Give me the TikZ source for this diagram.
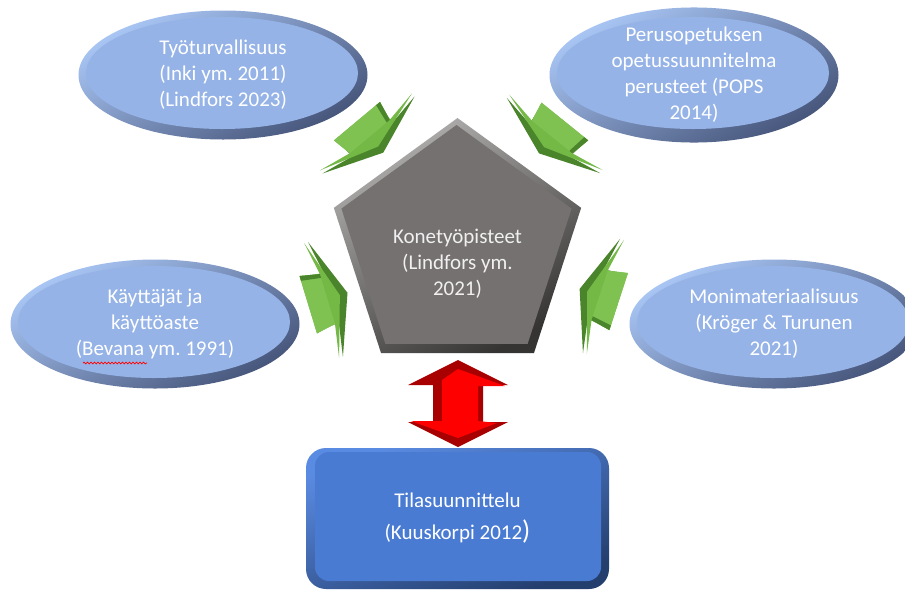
\documentclass[tikz,border=0pt]{standalone}
\usepackage{fontspec}
\setmainfont{Carlito}
\usepackage{tikz}
\usetikzlibrary{shapes.geometric,calc,decorations.pathmorphing}
\frenchspacing

\definecolor{bubblefill}{HTML}{95B3E7}
\definecolor{bubblelight}{HTML}{A9C6F5}
\definecolor{bubbledark}{HTML}{46557A}
\definecolor{hubfill}{HTML}{767171}
\definecolor{hublight}{HTML}{B3B0B0}
\definecolor{hubdark}{HTML}{363333}
\definecolor{planfill}{HTML}{4A7BD2}
\definecolor{planlight}{HTML}{5A8BE2}
\definecolor{plandark}{HTML}{243E6E}
\definecolor{leafface}{HTML}{74B846}
\definecolor{leafside}{HTML}{4A842B}
\definecolor{leafshaft}{HTML}{7FC252}
\definecolor{bolddark}{HTML}{A80000}
\definecolor{boldface}{HTML}{FF0000}

\newcommand{\labelfont}{\fontsize{21pt}{26pt}\selectfont}

\tikzstyle{bubble} = [ellipse, minimum width=289pt, minimum height=129pt, inner sep=0pt,
    top color=bubblelight, bottom color=bubbledark, shading angle=30,
    path picture={\fill[bubblefill] ([xshift=-1pt,yshift=2pt]path picture bounding box.center) ellipse (136pt and 56pt);},
    text=white, align=center, font=\labelfont]
\tikzstyle{hubshape} = [regular polygon, regular polygon sides=5, minimum size=260pt,
    inner sep=0pt, outer sep=0pt, top color=hublight, bottom color=hubdark, shading angle=30]
\tikzstyle{hubtext} = [text=white!94!black, align=center, font=\labelfont]
\tikzstyle{planbox} = [rectangle, rounded corners=20pt, minimum width=303pt, minimum height=141pt,
    top color=planlight, bottom color=plandark, shading angle=20,
    path picture={\fill[planfill, rounded corners=14pt] ([shift={(9pt,8pt)}]path picture bounding box.south west) rectangle ([shift={(-8pt,-4pt)}]path picture bounding box.north east);},
    text=white, align=center, font=\labelfont]
\tikzstyle{squiggle} = [draw=red, line width=0.7pt, decorate, decoration={snake, amplitude=0.9pt, segment length=3.5pt}]

% green block arrow: #1 = base point, #2 = angle
\newcommand{\greenarrow}[2]{%
  \begin{scope}[shift={#1}, rotate=#2]
    \fill[leafside] (0,-60) -- (23,0) -- (0,60) -- (6,26) -- (-12,28) -- (-12,-28) -- (6,-26) -- cycle;
    \fill[leafface] (-4,-60) -- (15,0) -- (-4,60) -- (2,26) -- (-18,30) -- (-18,-30) -- (2,-26) -- cycle;
    \fill[leafshaft] (2,-26) -- (-18,-30) -- (-18,30) -- (2,26) -- cycle;
    \fill[leafside] (2,-26) -- (-18,-30) -- (-18,-25) -- (2,-22) -- cycle;
  \end{scope}}

\begin{document}
\begin{tikzpicture}[x=1pt, y=-1pt]
    \useasboundingbox[fill=white] (0,0) rectangle (905,590);
    % Place nodes
    \node [hubshape] (hub) at (457.5,248) {};
    \fill [hubfill] ($(hub.corner 1)!9pt!(hub.center) + (-1,-2)$) -- ($(hub.corner 2)!9pt!(hub.center) + (-1,-2)$)
        -- ($(hub.corner 3)!9pt!(hub.center) + (-1,-2)$) -- ($(hub.corner 4)!9pt!(hub.center) + (-1,-2)$)
        -- ($(hub.corner 5)!9pt!(hub.center) + (-1,-2)$) -- cycle;
    \node [hubtext] (hublabel) at ($(hub.center) + (0,16)$) {Konetyöpisteet\\(Lindfors ym.\\2021)};
    \node [bubble] (safety) at (223,75) {Työturvallisuus\\(Inki ym. 2011)\\(Lindfors 2023)};
    \node [bubble] (curriculum) at (694,75) {Perusopetuksen\\opetussuunnitelma\\perusteet (POPS\\2014)};
    \node [bubble] (users) at (155,324) {Käyttäjät ja\\käyttöaste\\(Bevana ym. 1991)};
    \node [bubble] (materials) at (774,324) {Monimateriaalisuus\\(Kröger \& Turunen\\2021)};
    \node [planbox] (plan) at (457.5,518.5) {Tilasuunnittelu\\[6pt](Kuuskorpi 2012{\fontsize{27pt}{27pt}\selectfont)}};
    % Draw arrows
    \greenarrow{(368.5,135)}{-50.1}
    \greenarrow{(553.5,135.5)}{-128.9}
    \greenarrow{(325.5,299.5)}{16.9}
    \greenarrow{(601.5,296)}{162}
    \fill [bolddark] (458,360) -- (508,385) -- (483,385) -- (483,422) -- (508,422) -- (458,447)
        -- (408,422) -- (433,422) -- (433,385) -- (408,385) -- cycle;
    \fill [boldface] (458,369) -- (505,386) -- (478,386) -- (478,421) -- (497,423) -- (458,438)
        -- (411,421) -- (442,421) -- (442,380) -- cycle;
    \draw [squiggle] (83,363) -- (147,363);
\end{tikzpicture}
\end{document}
